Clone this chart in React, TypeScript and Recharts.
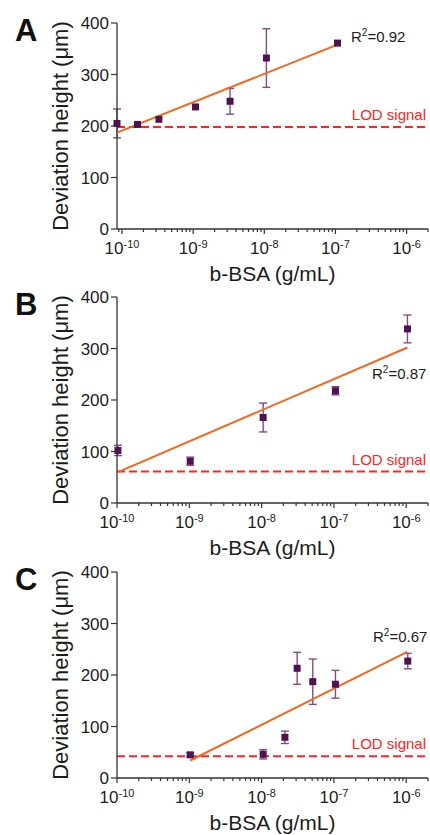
import React from "react";
import {
  ComposedChart,
  ErrorBar,
  ReferenceLine,
  Scatter,
  XAxis,
  YAxis,
} from "recharts";

// panel A
const concA = [8.5e-11, 1.65e-10, 3.3e-10, 1.08e-9, 3.3e-9, 1.07e-8, 1.07e-7];
const heightA = [205, 203, 213, 237, 248, 332, 361];
const errA = [28, 0, 0, 0, 25, 57, 0];
const fitConcA = [8.5e-11, 1.07e-7];
const fitHeightA = [187, 358];
const lodA = 198;

// panel B
const concB = [1.03e-10, 1.03e-9, 1.05e-8, 1.05e-7, 1.04e-6];
const heightB = [102, 81, 166, 218, 338];
const errB = [10, 8, 28, 8, 27];
const fitConcB = [1.03e-10, 1.04e-6];
const fitHeightB = [60, 302];
const lodB = 61;

// panel C
const concC = [1.03e-9, 1.05e-8, 2.1e-8, 3.1e-8, 5.1e-8, 1.05e-7, 1.05e-6];
const heightC = [45, 46, 79, 213, 187, 182, 227];
const errC = [4, 9, 12, 31, 44, 27, 15];
const fitConcC = [1.03e-9, 1.03e-6];
const fitHeightC = [34, 245];
const lodC = 42;

const majorTicks = [1e-10, 1e-9, 1e-8, 1e-7, 1e-6];
const exponentLabels = ["-10", "-9", "-8", "-7", "-6"];
const minorFactors = [2, 3, 4, 5, 6, 7, 8, 9];
const yTicks = [0, 100, 200, 300, 400];
const r2Labels = ["0.92", "0.87", "0.67"];
const panelLetters = ["A", "B", "C"];

const FONT = "'Liberation Sans', Arial, Helvetica, sans-serif";
const AXIS = "#333333";
const TEXT = "#1c1c1c";
const MARKER = "#4e1250";
const ERRBAR = "#874a87";
const FIT = "#f6661d";
const LOD = "#ff2424";

const PANEL_TOPS = [1, 275, 550];
const MARGIN_TOP = 22;

function buildTicks(lo: number) {
  const minors: number[] = [];
  for (const m of [1e-11, ...majorTicks]) {
    for (const f of minorFactors) {
      const v = m * f;
      if (v >= lo * 1.0001 && v <= 2e-6 * 1.0001) minors.push(v);
    }
  }
  return [...majorTicks, ...minors].sort((a, b) => a - b);
}

function LogTick(props: any) {
  const { x, y, payload } = props;
  const idx = majorTicks.findIndex((m) => Math.abs(m - payload.value) / m < 1e-6);
  const major = idx >= 0;
  return (
    <g>
      <line x1={x} x2={x} y1={y} y2={y + (major ? 5 : 3)} stroke={AXIS} strokeWidth={1.2} />
      {major && (
        <text x={x} y={y + 25} textAnchor="middle" fontSize={17} fill={TEXT} fontFamily={FONT}>
          10
          <tspan dy={-6} fontSize={11}>
            {exponentLabels[idx]}
          </tspan>
        </text>
      )}
    </g>
  );
}

function Square(props: any) {
  const { cx, cy } = props;
  if (cx == null || cy == null) return <g />;
  return <rect x={cx - 3.5} y={cy - 3.5} width={7} height={7} fill={MARKER} />;
}

function XTitle(props: any) {
  const vb = props.viewBox || { x: 117, y: 229, width: 311 };
  return (
    <text
      x={vb.x + vb.width / 2}
      y={vb.y + 52}
      textAnchor="middle"
      fontSize={21}
      fill={TEXT}
      fontFamily={FONT}
    >
      b-BSA (g/mL)
    </text>
  );
}

function YTitle(props: any) {
  const vb = props.viewBox || { y: MARGIN_TOP, height: 206 };
  const cx = 68;
  const cy = vb.y + vb.height / 2;
  return (
    <text
      x={cx}
      y={cy}
      transform={`rotate(-90 ${cx} ${cy})`}
      textAnchor="middle"
      fontSize={22}
      fill={TEXT}
      fontFamily={FONT}
    >
      Deviation height (μm)
    </text>
  );
}

function LodLabel(props: any) {
  const vb = props.viewBox;
  if (!vb) return null;
  return (
    <text
      x={vb.x + vb.width - 2}
      y={vb.y - 7}
      textAnchor="end"
      fontSize={15}
      fill={LOD}
      fontFamily={FONT}
    >
      LOD signal
    </text>
  );
}

interface PanelProps {
  conc: number[];
  height: number[];
  err: number[];
  fitConc: number[];
  fitHeight: number[];
  lod: number;
  xMin: number;
  left: number;
}

function Panel({ conc, height, err, fitConc, fitHeight, lod, xMin, left }: PanelProps) {
  const points = conc.map((x, i) => ({ x, y: height[i], err: err[i] }));
  const fit = fitConc.map((x, i) => ({ x, y: fitHeight[i] }));
  return (
    <ComposedChart
      width={430}
      height={290}
      margin={{ top: MARGIN_TOP, right: 2, bottom: 0, left }}
    >
      <XAxis
        type="number"
        dataKey="x"
        scale="log"
        domain={[xMin, 2e-6]}
        ticks={buildTicks(xMin)}
        interval={0}
        tick={<LogTick />}
        tickLine={false}
        tickSize={0}
        tickMargin={0}
        height={62}
        axisLine={{ stroke: AXIS, strokeWidth: 1.3 }}
        label={XTitle}
      />
      <YAxis
        type="number"
        dataKey="y"
        domain={[0, 400]}
        ticks={yTicks}
        interval={0}
        width={117 - left}
        tickSize={6}
        tickMargin={2}
        tick={{ fill: TEXT, fontSize: 17, fontFamily: FONT }}
        tickLine={{ stroke: AXIS, strokeWidth: 1.2 }}
        axisLine={{ stroke: AXIS, strokeWidth: 1.3 }}
        label={YTitle}
      />
      <ReferenceLine
        y={lod}
        stroke={LOD}
        strokeWidth={2}
        strokeDasharray="8 4"
        label={LodLabel}
      />
      <Scatter
        data={fit}
        line={{ stroke: FIT, strokeWidth: 2 }}
        shape={() => <g />}
        isAnimationActive={false}
      />
      <Scatter data={points} shape={Square} isAnimationActive={false}>
        <ErrorBar dataKey="err" direction="y" width={4} stroke={ERRBAR} strokeWidth={1.4} />
      </Scatter>
    </ComposedChart>
  );
}

export default function App() {
  const r2Pos = [
    { x: 351, y: 42 },
    { x: 372, y: 379 },
    { x: 373, y: 642 },
  ];
  return (
    <div style={{ position: "relative", width: 430, height: 835, background: "#fff" }}>
      <style>{"body{margin:0}"}</style>
      <div style={{ position: "absolute", left: 0, top: PANEL_TOPS[0] }}>
        <Panel
          conc={concA}
          height={heightA}
          err={errA}
          fitConc={fitConcA}
          fitHeight={fitHeightA}
          lod={lodA}
          xMin={8.5e-11}
          left={0}
        />
      </div>
      <div style={{ position: "absolute", left: 0, top: PANEL_TOPS[1] }}>
        <Panel
          conc={concB}
          height={heightB}
          err={errB}
          fitConc={fitConcB}
          fitHeight={fitHeightB}
          lod={lodB}
          xMin={1e-10}
          left={0}
        />
      </div>
      <div style={{ position: "absolute", left: 0, top: PANEL_TOPS[2] }}>
        <Panel
          conc={concC}
          height={heightC}
          err={errC}
          fitConc={fitConcC}
          fitHeight={fitHeightC}
          lod={lodC}
          xMin={1e-10}
          left={1}
        />
      </div>
      <svg
        width={430}
        height={835}
        style={{ position: "absolute", left: 0, top: 0, pointerEvents: "none" }}
      >
        {panelLetters.map((letter, i) => (
          <text
            key={letter}
            x={15}
            y={PANEL_TOPS[i] + MARGIN_TOP + 18}
            fontSize={31}
            fontWeight="bold"
            fill="#111"
            fontFamily={FONT}
          >
            {letter}
          </text>
        ))}
        {r2Labels.map((r2, i) => (
          <text key={r2} x={r2Pos[i].x} y={r2Pos[i].y} fontSize={15} fill={TEXT} fontFamily={FONT}>
            R
            <tspan dy={-6} fontSize={10}>
              2
            </tspan>
            <tspan dy={6}>={r2}</tspan>
          </text>
        ))}
      </svg>
    </div>
  );
}
